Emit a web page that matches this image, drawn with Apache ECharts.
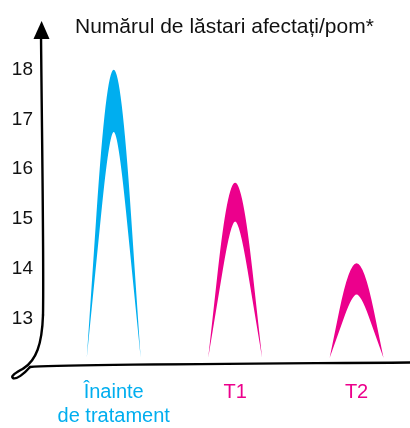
<!DOCTYPE html>
<html>
<head>
<meta charset="utf-8">
<script src="https://cdn.jsdelivr.net/npm/echarts@6/dist/echarts.min.js"></script>
<style>
html,body{margin:0;padding:0;background:#fff;}
#chart{width:410px;height:428px;}
</style>
</head>
<body>
<div id="chart"></div>
<script>
// ---- data ----
const titleText = 'Numărul de lăstari afectați/pom*';
const categories = ['Înainte\nde tratament', 'T1', 'T2'];
const outerPeak = [18.0, 15.73, 14.11];   // top of each arch
const innerPeak = [16.75, 14.95, 13.48];  // top of inner cut-out
const baseValue = 12.2;                    // where the arches start
const yTicks = [13, 14, 15, 16, 17, 18];
const categoryColors = ['#00AEEF', '#EC008C', '#EC008C'];

const chart = echarts.init(document.getElementById('chart'), null, {renderer: 'canvas'});

const seriesData = categories.map((c, i) => [i, outerPeak[i], innerPeak[i]]);

function renderArch(params, api) {
  const i = api.value(0);
  const outer = api.coord([i, api.value(1)]);
  const inner = api.coord([i, api.value(2)]);
  const base = api.coord([i, baseValue]);
  const W = api.size([1, 0])[0] * 0.222;
  const cx = base[0], yb = base[1];

  function side(peakY, m, hA, dir) {
    const H = yb - peakY;
    return {
      A: [cx + dir * W * (1 - m * hA), yb - hA * H],
      C: [cx + dir * W * (1 - m), peakY]
    };
  }
  const oL = side(outer[1], 0.72, 0.5, -1), oR = side(outer[1], 0.72, 0.5, 1);
  const iL = side(inner[1], 0.84, 0.65, -1), iR = side(inner[1], 0.84, 0.65, 1);
  const f = p => p[0].toFixed(2) + ' ' + p[1].toFixed(2);
  const d = 'M ' + (cx - W) + ' ' + yb +
    ' L ' + f(oL.A) + ' Q ' + f(oL.C) + ' ' + cx + ' ' + outer[1] +
    ' Q ' + f(oR.C) + ' ' + f(oR.A) + ' L ' + (cx + W) + ' ' + yb +
    ' L ' + f(iR.A) + ' Q ' + f(iR.C) + ' ' + cx + ' ' + inner[1] +
    ' Q ' + f(iL.C) + ' ' + f(iL.A) + ' Z';
  return {
    type: 'path',
    shape: {pathData: d},
    style: {fill: categoryColors[i], stroke: null}
  };
}

const axisStroke = {stroke: '#000', lineWidth: 2.4, fill: null, lineCap: 'round'};
function bez(p) {
  return {type: 'bezierCurve', silent: true,
    shape: {x1: p[0], y1: p[1], cpx1: p[2], cpy1: p[3], cpx2: p[4], cpy2: p[5], x2: p[6], y2: p[7]},
    style: axisStroke};
}

const isCat = v => { const n = Number(v); return Number.isInteger(n) && n >= 0 && n < categories.length; };

const option = {
  backgroundColor: '#ffffff',
  animation: false,
  title: {
    text: titleText,
    left: 70,
    top: 12,
    textStyle: {fontFamily: 'Liberation Sans', fontSize: 21, fontWeight: 'normal', color: '#111'}
  },
  grid: {left: 53, right: 0, top: 45, bottom: 58},
  xAxis: {
    type: 'value',
    min: -0.5,
    max: 2.44,
    axisLine: {show: false},
    axisTick: {show: false},
    splitLine: {show: false},
    axisLabel: {
      hideOverlap: false,
      showMinLabel: false,
      showMaxLabel: false,
      margin: 12,
      fontFamily: 'Liberation Sans',
      fontSize: 20,
      lineHeight: 24,
      formatter: v => (isCat(v) ? categories[Number(v)] : ''),
      color: v => (isCat(v) ? categoryColors[Number(v)] : '#000')
    }
  },
  yAxis: {
    type: 'value',
    min: 12,
    max: 18.5,
    interval: 1,
    offset: 12,
    axisLine: {show: false},
    axisTick: {show: false},
    splitLine: {show: false},
    axisLabel: {
      margin: 8,
      padding: [4, 0, 0, 0],
      fontFamily: 'Liberation Sans',
      fontSize: 19,
      color: '#111',
      formatter: v => (yTicks.indexOf(v) >= 0 ? String(v) : '')
    }
  },
  graphic: [
    bez([41, 33, 41.8, 130, 44, 260, 43, 315]),
    bez([43, 315, 42, 345, 36, 360, 24, 368]),
    bez([24, 368, 16, 373, 10, 376, 13, 378]),
    bez([13, 378, 16, 380, 24, 374, 30, 367]),
    bez([30, 367, 60, 364.5, 200, 364, 412, 362.5]),
    {
      type: 'polygon',
      silent: true,
      shape: {points: [[41.6, 21], [49.5, 39], [33.5, 39]]},
      style: {fill: '#000'}
    }
  ],
  series: [{
    type: 'custom',
    renderItem: renderArch,
    data: seriesData,
    encode: {x: 0, y: 1}
  }]
};
chart.setOption(option);
</script>
</body>
</html>
